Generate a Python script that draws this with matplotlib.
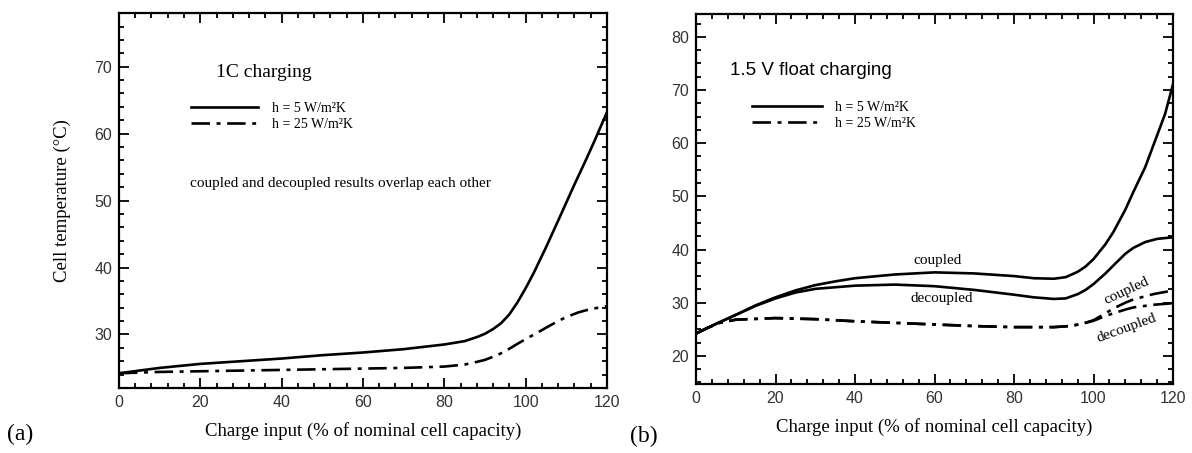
import numpy as np
import matplotlib
matplotlib.use('Agg')
import matplotlib.pyplot as plt
from matplotlib.ticker import MultipleLocator

# (a) 1C charging
a_x5 = [0, 5, 10, 15, 20, 30, 40, 50, 60, 70, 80, 85, 88, 90, 92, 94, 96, 98, 100, 102, 105, 108, 110, 112, 115, 117, 120]
a_y5 = [24.2, 24.6, 25.0, 25.3, 25.6, 26.0, 26.4, 26.9, 27.3, 27.8, 28.5, 29.0, 29.6, 30.1, 30.8, 31.7, 33.0, 34.8, 36.9, 39.2, 43.0, 47.0, 49.7, 52.4, 56.3, 59.0, 63.2]
a_x25 = [0, 10, 20, 30, 40, 50, 60, 70, 80, 85, 88, 90, 93, 95, 98, 100, 103, 105, 108, 110, 113, 116, 120]
a_y25 = [24.2, 24.4, 24.5, 24.6, 24.7, 24.8, 24.9, 25.0, 25.2, 25.5, 25.9, 26.2, 26.9, 27.5, 28.6, 29.3, 30.3, 31.0, 32.0, 32.6, 33.3, 33.8, 34.2]

# (b) 1.5 V float charging
b_x5c = [0, 5, 10, 15, 20, 25, 30, 35, 40, 50, 60, 70, 80, 85, 90, 93, 96, 98, 100, 103, 105, 108, 110, 113, 115, 118, 120]
b_y5c = [24.2, 26.0, 27.7, 29.5, 31.0, 32.3, 33.3, 34.0, 34.6, 35.3, 35.7, 35.5, 35.0, 34.6, 34.5, 34.8, 35.8, 36.8, 38.2, 41.0, 43.3, 47.5, 50.8, 55.5, 59.5, 65.5, 71.1]
b_x5d = [0, 5, 10, 15, 20, 25, 30, 40, 50, 60, 70, 80, 85, 90, 93, 96, 98, 100, 103, 105, 108, 110, 113, 116, 120]
b_y5d = [24.2, 26.0, 27.7, 29.4, 30.8, 31.9, 32.6, 33.2, 33.4, 33.1, 32.4, 31.5, 31.0, 30.7, 30.8, 31.6, 32.4, 33.5, 35.5, 37.0, 39.2, 40.3, 41.4, 42.0, 42.3]
b_x25c = [0, 3, 6, 10, 20, 30, 40, 50, 60, 70, 80, 90, 94, 97, 100, 103, 105, 108, 110, 115, 120]
b_y25c = [24.2, 25.3, 26.2, 26.8, 27.1, 26.9, 26.5, 26.2, 25.9, 25.6, 25.4, 25.4, 25.6, 26.0, 26.7, 28.0, 28.9, 30.0, 30.6, 31.6, 32.3]
b_x25d = [0, 3, 6, 10, 20, 30, 40, 50, 60, 70, 80, 90, 94, 97, 100, 103, 105, 108, 110, 115, 120]
b_y25d = [24.2, 25.3, 26.2, 26.8, 27.1, 26.9, 26.5, 26.2, 25.9, 25.6, 25.4, 25.4, 25.6, 26.0, 26.6, 27.5, 28.0, 28.7, 29.1, 29.6, 29.9]

labels = ['h = 5 W/m²K', 'h = 25 W/m²K']

serif = 'Liberation Serif'
sans = 'Liberation Sans'
dd = (0, (7, 2.5, 1.5, 2.5))
lw = 1.9

plt.rcParams['font.family'] = sans

fig = plt.figure(figsize=(11.92, 4.53), dpi=100)
ax1 = fig.add_axes([0.0998, 0.1435, 0.4094, 0.8275])
ax2 = fig.add_axes([0.5839, 0.1523, 0.4002, 0.8168])


def style(ax, ymin, ymax, ymin_step):
    ax.set_xlim(0, 120)
    ax.set_ylim(ymin, ymax)
    ax.xaxis.set_major_locator(MultipleLocator(20))
    ax.xaxis.set_minor_locator(MultipleLocator(4))
    ax.yaxis.set_major_locator(MultipleLocator(10))
    ax.yaxis.set_minor_locator(MultipleLocator(ymin_step))
    ax.tick_params(which='both', direction='in', top=True, right=True,
                   width=1.3, labelsize=11.5, labelcolor='#333333', colors='black')
    ax.tick_params(which='major', length=7, pad=5)
    ax.tick_params(which='minor', length=3.5)
    for s in ax.spines.values():
        s.set_linewidth(1.6)
    ax.set_xlabel('Charge input (% of nominal cell capacity)', family=serif,
                  fontsize=13.5, labelpad=9)


# panel (a)
ax1.plot(a_x5, a_y5, color='black', lw=lw, label=labels[0])
ax1.plot(a_x25, a_y25, color='black', lw=lw, ls=dd, label=labels[1])
style(ax1, 22, 78, 2)
ax1.set_yticks([30, 40, 50, 60, 70])
ax1.set_ylabel('Cell temperature (°C)', family=serif, fontsize=13.5, labelpad=17)
ax1.text(23.8, 69.1, '1C charging', family=serif, fontsize=14, va='center')
ax1.text(54.5, 52.6, 'coupled and decoupled results overlap each other',
         family=serif, fontsize=11, ha='center', va='center')
ax1.legend(loc='upper left', bbox_to_anchor=(0.148, 0.764), frameon=False,
           borderpad=0, borderaxespad=0, handlelength=4.8, handletextpad=1.0,
           labelspacing=0.25, prop={'family': serif, 'size': 10})

# panel (b)
ax2.plot(b_x5c, b_y5c, color='black', lw=lw, label=labels[0])
ax2.plot(b_x5d, b_y5d, color='black', lw=lw)
ax2.plot(b_x25c, b_y25c, color='black', lw=lw, ls=dd, label=labels[1])
ax2.plot(b_x25d, b_y25d, color='black', lw=lw, ls=dd)
style(ax2, 14.7, 84.3, 2.5)
ax2.set_yticks([20, 30, 40, 50, 60, 70, 80])
ax2.text(8.6, 73.7, '1.5 V float charging', family=sans, fontsize=13.5, va='center')
ax2.text(60.8, 38.0, 'coupled', family=serif, fontsize=11, ha='center', va='center')
ax2.text(61.8, 30.7, 'decoupled', family=serif, fontsize=11, ha='center', va='center')
ax2.text(108.4, 32.2, 'coupled', family=serif, fontsize=11, ha='center', va='center', rotation=25)
ax2.text(108.4, 25.2, 'decoupled', family=serif, fontsize=11, ha='center', va='center', rotation=20)
ax2.legend(loc='upper left', bbox_to_anchor=(0.1175, 0.766), frameon=False,
           borderpad=0, borderaxespad=0, handlelength=5.0, handletextpad=1.0,
           labelspacing=0.25, prop={'family': serif, 'size': 10})

fig.text(20 / 1192, 1 - 434 / 453, '(a)', family=serif, fontsize=17, ha='center', va='center')
fig.text(644 / 1192, 1 - 436 / 453, '(b)', family=serif, fontsize=17, ha='center', va='center')

fig.savefig('out.png', dpi=100)
